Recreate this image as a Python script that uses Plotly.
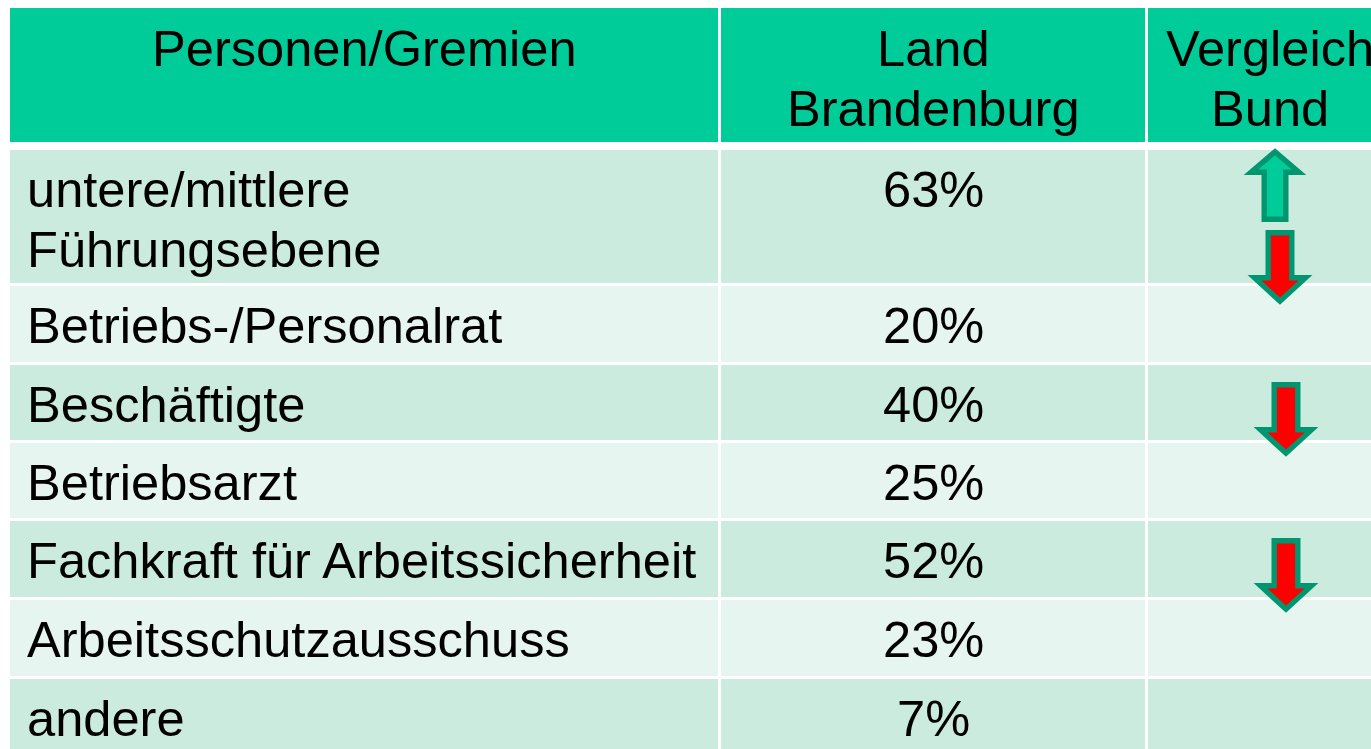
import plotly.graph_objects as go

# ---- data ----
headers = ["Personen/Gremien", "Land<br>Brandenburg", "Vergleich<br>Bund"]
labels = [
    "untere/mittlere<br>Führungsebene",
    "Betriebs-/Personalrat",
    "Beschäftigte",
    "Betriebsarzt",
    "Fachkraft für Arbeitssicherheit",
    "Arbeitsschutzausschuss",
    "andere",
]
values = [63, 20, 40, 25, 52, 23, 7]
comparison = [["up", "down"], [], ["down"], [], ["down"], [], []]

# ---- layout constants (pixels) ----
W, H = 1371, 749
FONT = "Liberation Sans, Arial, sans-serif"
FS = 50.6
cols = [(10, 718), (721, 1145), (1148, 1392)]
header_top, header_bottom = 8, 142
row_heights = [133, 76, 75, 75, 76, 76, 78]
first_row_top, gap = 150, 3
HEAD_FILL = "#00CC99"
ROW_FILLS = ["#CCEBDF", "#E6F5EF"]
ARROW_LINE = "#009670"
UP_FILL = "#00CC99"
DOWN_FILL = "#FF0000"
LINE_PITCH = 60

row_tops = []
t = first_row_top
for h in row_heights:
    row_tops.append(t)
    t += h + gap

shapes = []
annotations = []

def ann(x, y, text, xanchor):
    annotations.append(dict(x=x, y=y, xref="x", yref="y", text=text, showarrow=False,
                            xanchor=xanchor, yanchor="middle",
                            font=dict(family=FONT, size=FS, color="black")))

# header
for (x0, x1), htxt in zip(cols, headers):
    shapes.append(dict(type="rect", xref="x", yref="y", x0=x0, x1=x1, y0=header_top, y1=header_bottom,
                       fillcolor=HEAD_FILL, line=dict(width=0), layer="below"))
    for i, line in enumerate(htxt.split("<br>")):
        ann((x0 + x1) / 2, header_top + 40 + LINE_PITCH * i, line, "center")

# body rows
for r, (lab, val, h) in enumerate(zip(labels, values, row_heights)):
    top = row_tops[r]
    fill = ROW_FILLS[r % 2]
    for (x0, x1) in cols:
        shapes.append(dict(type="rect", xref="x", yref="y", x0=x0, x1=x1, y0=top, y1=top + h,
                           fillcolor=fill, line=dict(width=0), layer="below"))
    for i, line in enumerate(lab.split("<br>")):
        ann(cols[0][0] + 15, top + 39 + LINE_PITCH * i, line, "left")
    ann((cols[1][0] + cols[1][1]) / 2, top + 39, f"{val}%", "center")

# arrows
def arrow_path(cx, top, direction):
    lw = 2.7  # half stroke inset
    if direction == "up":
        hh, hw, sw, L = 27, 27.5, 13.5, 74
        pts = [(cx, top + lw * 1.4), (cx + hw - lw * 1.3, top + hh - lw), (cx + sw - lw, top + hh - lw),
               (cx + sw - lw, top + L - lw), (cx - sw + lw, top + L - lw), (cx - sw + lw, top + hh - lw),
               (cx - hw + lw * 1.3, top + hh - lw)]
    else:
        hh, hw, sw, L = 30, 29, 14.5, 75
        pts = [(cx - sw + lw, top + lw), (cx + sw - lw, top + lw), (cx + sw - lw, top + L - hh + lw),
               (cx + hw - lw * 1.3, top + L - hh + lw), (cx, top + L - lw * 1.4),
               (cx - hw + lw * 1.3, top + L - hh + lw), (cx - sw + lw, top + L - hh + lw)]
    return "M " + " L ".join(f"{x:.1f},{y:.1f}" for x, y in pts) + " Z"

col3_c = (cols[2][0] + cols[2][1]) / 2
for r, dirs in enumerate(comparison):
    top = row_tops[r]
    if len(dirs) == 2:
        slots = [(top - 2, col3_c + 5), (top + 80, col3_c + 10)]
    else:
        slots = [(top + 17, col3_c + 16)]
    for d, (ay, ax) in zip(dirs, slots):
        shapes.append(dict(type="path", xref="x", yref="y", path=arrow_path(ax, ay, d),
                           fillcolor=UP_FILL if d == "up" else DOWN_FILL,
                           line=dict(color=ARROW_LINE, width=5.4), layer="above"))

fig = go.Figure()
fig.add_trace(go.Scatter(x=[0], y=[0], mode="markers", marker=dict(opacity=0), hoverinfo="skip", showlegend=False))
fig.update_layout(
    width=W, height=H, margin=dict(l=0, r=0, t=0, b=0),
    paper_bgcolor="white", plot_bgcolor="white",
    xaxis=dict(range=[0, W], visible=False, fixedrange=True),
    yaxis=dict(range=[H, 0], visible=False, fixedrange=True),
    shapes=shapes, annotations=annotations, showlegend=False,
)
fig.write_html("out.html", config={"displayModeBar": False},
               post_script="document.body.style.margin='0';document.body.style.overflow='hidden';")
